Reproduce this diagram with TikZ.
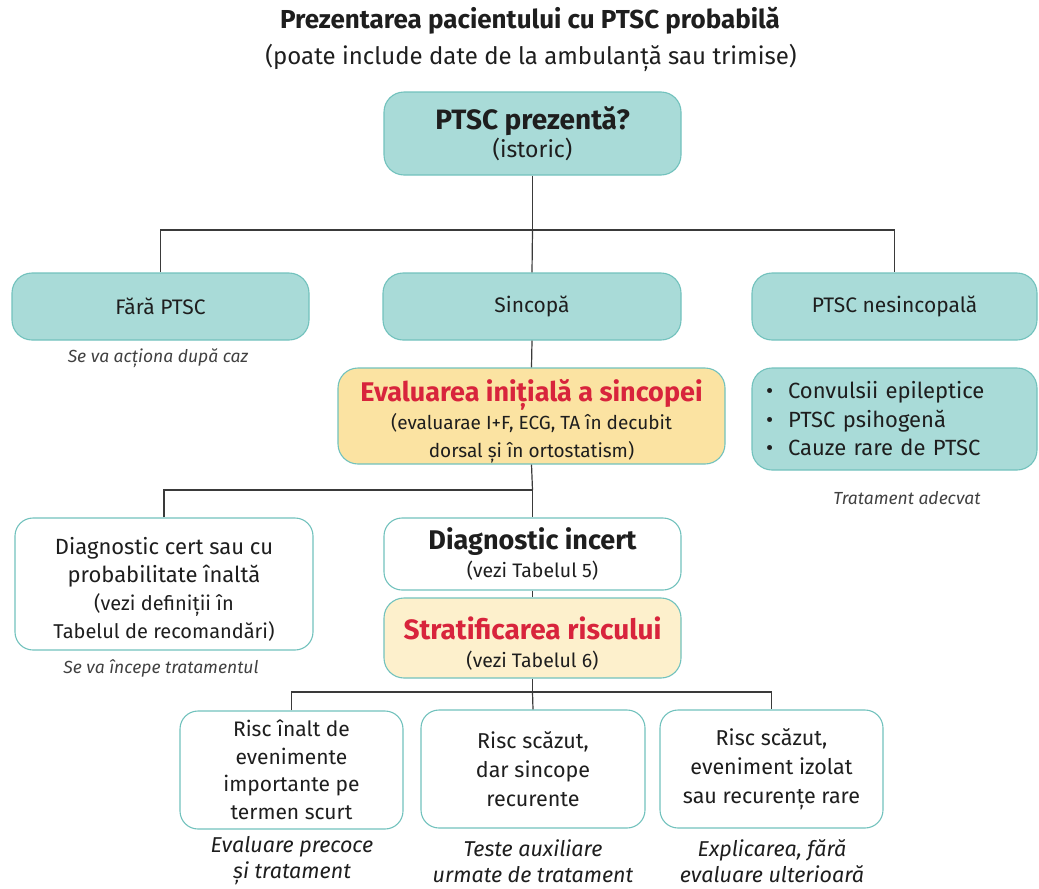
\documentclass[tikz,border=0pt]{standalone}
\usepackage{fontspec}
\setmainfont{Fira Sans}
\usetikzlibrary{positioning}
\definecolor{tealfill}{HTML}{A9DBD8}
\definecolor{tealline}{HTML}{72C2BD}
\definecolor{yellowfill}{HTML}{FBE3A2}
\definecolor{creamfill}{HTML}{FDF0CC}
\definecolor{alertred}{HTML}{D8243C}
\definecolor{inktext}{HTML}{1E1E1E}
\definecolor{wirecol}{HTML}{3A3A3A}
\newcommand{\fsz}[2]{\fontsize{#1}{#2}\selectfont}
\tikzset{
  box/.style={draw=tealline, line width=1.1pt, rounded corners=20pt, align=center,
    inner sep=3pt, text=inktext, font=\fsz{21}{28}},
  tealbox/.style={box, fill=tealfill},
  whitebox/.style={box, fill=white, rounded corners=18pt},
  yellowbox/.style={box, fill=yellowfill},
  creambox/.style={box, fill=creamfill},
  note/.style={font=\fsz{17.5}{21}\itshape, text=inktext!85, align=center},
  bignote/.style={font=\fsz{21.5}{26}\itshape, text=inktext, align=center},
  wire/.style={draw=wirecol, line width=1.2pt}
}
\begin{document}
\begin{tikzpicture}[x=1pt,y=-1pt]
\useasboundingbox (0,0) rectangle (1039,889);

% title
\node[font=\fsz{26}{30}\bfseries, text=inktext] (title) at (530,21) {Prezentarea pacientului cu PTSC probabilă};
\node[font=\fsz{24}{28}, text=inktext] (subtitle) at (531,58) {(poate include date de la ambulanță sau trimise)};

% first decision
\node[tealbox, minimum width=297pt, minimum height=83pt] (top) at (532.5,133.5)
  {\fsz{28}{32}\bfseries PTSC prezentă?\\\fsz{23}{32}\mdseries (istoric)};

\node[tealbox, minimum width=297pt, minimum height=67pt] (fara) at (160.5,306.5) {Fără PTSC};
\node[tealbox, minimum width=298pt, minimum height=67pt] (sinc) at (532,306.5) {Sincopă};
\node[tealbox, minimum width=285pt, minimum height=67pt] (nes) at (894.5,306.5) {PTSC nesincopală};

\node[note] (faranote) at (158,358) {Se va acționa după caz};

% initial evaluation
\node[yellowbox, minimum width=387pt, minimum height=96pt, inner ysep=0pt] (eval) at (531.5,416)
  {\rule{0pt}{32pt}\fsz{27}{30}\bfseries\color{alertred}Evaluarea inițială a sincopei\\
   \fsz{19}{27}\mdseries\color{inktext}(evaluarae I+F, ECG, TA în decubit\\
   \fsz{19}{26}\mdseries\color{inktext}dorsal și în ortostatism)};

\node[tealbox, minimum width=285pt, minimum height=102pt, align=left,
      text width=257pt, inner xsep=14pt, font=\fsz{22}{28.5}] (bul) at (894.5,419)
  {\makebox[22pt][l]{\textbullet}Convulsii epileptice\\
   \makebox[22pt][l]{\textbullet}PTSC psihogenă\\
   \makebox[22pt][l]{\textbullet}Cauze rare de PTSC};
\node[note] (bulnote) at (907,498) {Tratament adecvat};

% diagnosis
\node[whitebox, minimum width=298pt, minimum height=132pt, font=\fsz{22}{28}] (cert) at (164,584)
  {\rule{0pt}{28pt}Diagnostic cert sau cu\\probabilitate înaltă\\
   \fsz{20}{28}(vezi definiții în\\\fsz{20}{27}Tabelul de recomandări)};
\node[note] (certnote) at (161,668) {Se va începe tratamentul};

\node[whitebox, minimum width=297pt, minimum height=72pt] (incert) at (532.5,554)
  {\fsz{27}{29}\bfseries Diagnostic incert\\\fsz{19.5}{24}\mdseries (vezi Tabelul 5)};

\node[creambox, minimum width=297pt, minimum height=80pt, inner ysep=0pt] (strat) at (532.5,638)
  {\rule{0pt}{34pt}\fsz{28}{31}\bfseries\color{alertred}Stratificarea riscului\\
   \fsz{19.5}{26}\mdseries\color{inktext}(vezi Tabelul 6)};

% risk groups
\node[whitebox, minimum width=223pt, minimum height=118pt, inner ysep=0pt, font=\fsz{21}{27.5}] (r1) at (291.5,770)
  {Risc înalt de\\evenimente\\importante pe\\termen scurt};
\node[whitebox, minimum width=224pt, minimum height=118pt, font=\fsz{21.5}{29}] (r2) at (533,769)
  {Risc scăzut,\\dar sincope\\recurente};
\node[whitebox, minimum width=223pt, minimum height=118pt, font=\fsz{21.5}{29}] (r3) at (771.5,769)
  {Risc scăzut,\\eveniment izolat\\sau recurențe rare};

\node[bignote] (r1note) at (292,861) {Evaluare precoce\\și tratament};
\node[bignote] (r2note) at (533,861) {Teste auxiliare\\urmate de tratament};
\node[bignote] (r3note) at (772,861) {Explicarea, fără\\evaluare ulterioară};

% connectors
\coordinate (j1) at (532.5,230);
\draw[wire] (top.south) -- (j1);
\draw[wire] (fara.north) |- (j1) -| (nes.north);
\draw[wire] (j1) -- (sinc.north);
\draw[wire] (sinc.south) -- (eval.north);

\coordinate (j2) at (532.5,490);
\draw[wire] (eval.south) -- (j2);
\draw[wire] (cert.north) |- (j2);
\draw[wire] (j2) -- (incert.north);
\draw[wire] (incert.south) -- (strat.north);

\coordinate (j3) at (532.5,692);
\draw[wire] (strat.south) -- (j3);
\draw[wire] (r1.north) |- (j3) -| (r3.north);
\draw[wire] (j3) -- (r2.north);
\end{tikzpicture}
\end{document}
